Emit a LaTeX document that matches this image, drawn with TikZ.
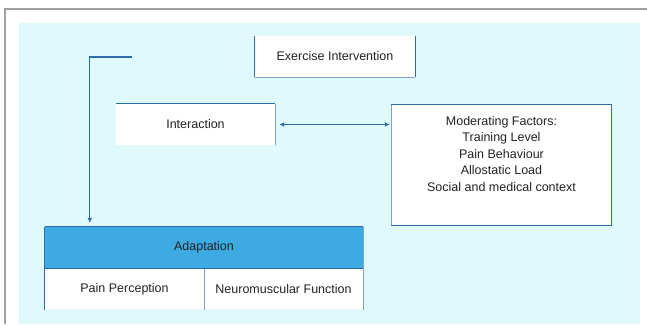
\documentclass[tikz,border=0pt]{standalone}
\usepackage{fontspec}
\setmainfont{Liberation Sans}
\usetikzlibrary{arrows.meta,calc}
\definecolor{bgcyan}{RGB}{224,249,253}
\definecolor{hdrblue}{RGB}{62,170,226}
\definecolor{linedark}{RGB}{46,110,166}
\definecolor{linelight}{RGB}{125,162,205}
\definecolor{framegray}{RGB}{160,160,160}
\definecolor{txt}{RGB}{35,35,35}
\begin{document}
\begin{tikzpicture}[x=1pt,y=-1pt,
  every node/.style={font=\fontsize{12.5}{16.5}\selectfont, text=txt},
  whitebox/.style={fill=white, draw=none, inner sep=0pt},
  darkline/.style={draw=linedark, line width=0.9pt},
  lightline/.style={draw=linelight, line width=0.9pt},
  conn/.style={draw=linedark, line width=1.1pt},
  tip/.style={-{Latex[length=5pt,width=5pt]}},
]
\useasboundingbox (0,0) rectangle (647,324);
% background
\fill[bgcyan] (19,23) rectangle (640,324);
\draw[framegray, line width=1.6pt] (5,324) -- (5,9) -- (647,9);

% Exercise Intervention
\node[whitebox, minimum width=160pt, minimum height=41pt] (ex) at (335,56.5) {Exercise Intervention};
\draw[darkline] (ex.north west) -- (ex.south west);
\draw[darkline] (ex.north east) -- (ex.south east);
\draw[lightline] (ex.south west) -- (ex.south east);

% Interaction
\node[whitebox, minimum width=159pt, minimum height=41pt] (inter) at (195.5,124.5) {Interaction};
\draw[darkline] (inter.north west) -- (inter.north east);
\draw[lightline] (inter.north east) -- (inter.south east);

% Moderating factors
\node[whitebox, minimum width=219pt, minimum height=120pt] (mod) at (501.5,165) {};
\draw[darkline] (mod.south west) rectangle (mod.north east);
\draw[lightline] (mod.north west) -- (mod.south west);
\node[align=center] (modtxt) at (501.5,154) {Moderating Factors:\\Training Level\\Pain Behaviour\\Allostatic Load\\Social and medical context};

% Adaptation table
\node[fill=hdrblue, inner sep=0pt, minimum width=318pt, minimum height=41pt] (hdr) at (204,247.5) {Adaptation};
\node[whitebox, minimum width=159pt, minimum height=41pt, anchor=north west] (pp) at (hdr.south west) {Pain Perception};
\node[whitebox, minimum width=159pt, minimum height=41pt, anchor=north east] (nm) at (hdr.south east) {Neuromuscular Function};
\draw[darkline] (hdr.north west) -- (hdr.north east);
\draw[darkline] (hdr.north west) -- (pp.south west);
\draw[lightline] (hdr.north east) -- (nm.south east);
\draw[lightline] (pp.north east) -- (pp.south east);
\draw[darkline] (hdr.south west) -- (hdr.south east);

% connectors
\coordinate (start) at (132,57);
\coordinate (arrend) at ($(hdr.north west)+(45,-4)$);
\draw[conn, tip] (start) -| (arrend);
\draw[conn, {Latex[length=5pt,width=5pt]}-{Latex[length=5pt,width=5pt]}] ($(inter.east)+(4,0)$) -- ($(mod.west |- inter.east)+(-2,0)$);
\end{tikzpicture}
\end{document}
